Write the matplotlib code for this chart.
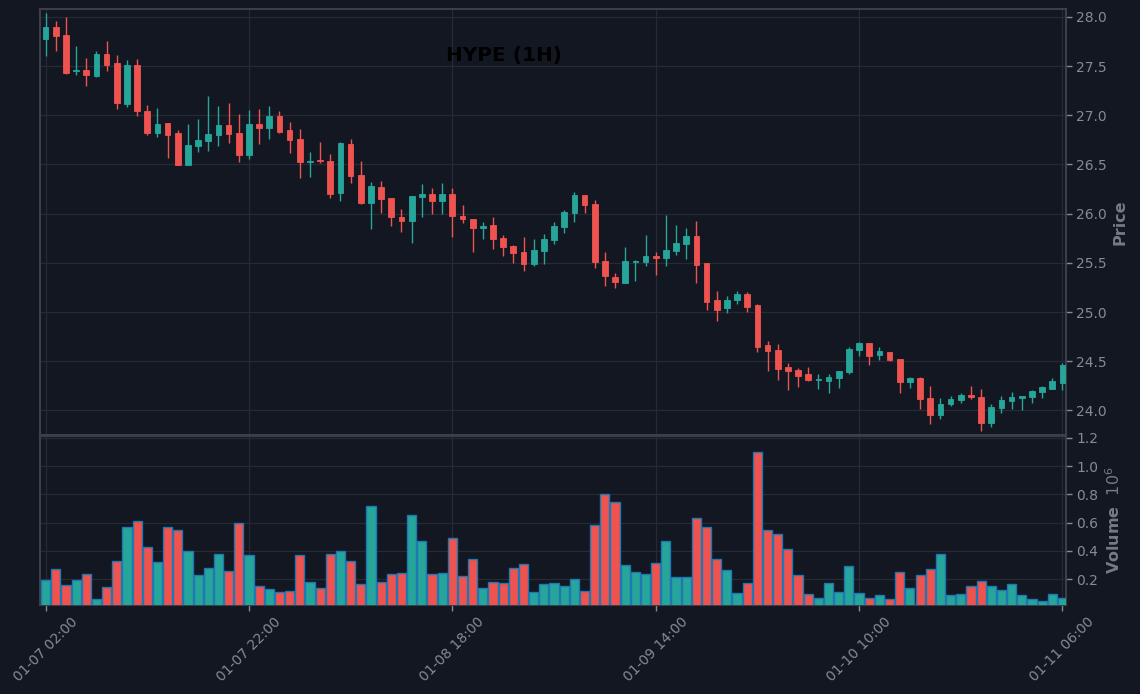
import matplotlib
matplotlib.use("Agg")
import matplotlib.pyplot as plt
import numpy as np
import pandas as pd

start_time = "2025-01-07 02:00"
n_candles = 101

opens = [27.77, 27.90, 27.82, 27.45, 27.46, 27.40, 27.62, 27.53, 27.11, 27.51,
         27.04, 26.82, 26.92, 26.82, 26.49, 26.69, 26.74, 26.80, 26.90, 26.82,
         26.60, 26.91, 26.87, 26.99, 26.85, 26.76, 26.52, 26.55, 26.54, 26.21,
         26.71, 26.39, 26.11, 26.27, 26.16, 25.97, 25.93, 26.17, 26.20, 26.13,
         26.20, 25.98, 25.95, 25.85, 25.88, 25.75, 25.67, 25.61, 25.49, 25.62,
         25.73, 25.866, 26.01, 26.19, 26.10, 25.52, 25.36, 25.30, 25.51, 25.51,
         25.57, 25.55, 25.62, 25.69, 25.77, 25.50, 25.12, 25.04, 25.12, 25.18,
         25.07, 24.66, 24.61, 24.44, 24.41, 24.37, 24.31, 24.30, 24.33, 24.39,
         24.61, 24.68, 24.56, 24.59, 24.52, 24.29, 24.33, 24.13, 23.95, 24.06,
         24.11, 24.16, 24.14, 23.87, 24.02, 24.10, 24.13, 24.14, 24.19, 24.22,
         24.28]
highs = [28.04, 27.96, 28.00, 27.70, 27.58, 27.65, 27.75, 27.61, 27.56, 27.57,
         27.10, 27.07, 26.92, 26.85, 26.91, 26.96, 27.20, 27.09, 27.12, 27.01,
         27.05, 27.06, 27.09, 27.04, 26.93, 26.86, 26.63, 26.73, 26.61, 26.73,
         26.76, 26.53, 26.32, 26.33, 26.16, 26.05, 26.18, 26.30, 26.26, 26.31,
         26.26, 26.09, 25.95, 25.92, 25.97, 25.78, 25.68, 25.76, 25.74, 25.79,
         25.91, 26.04, 26.22, 26.19, 26.14, 25.61, 25.40, 25.66, 25.53, 25.78,
         25.61, 25.99, 25.88, 25.85, 25.93, 25.50, 25.21, 25.16, 25.21, 25.20,
         25.08, 24.71, 24.67, 24.48, 24.43, 24.44, 24.37, 24.37, 24.40, 24.64,
         24.70, 24.68, 24.64, 24.59, 24.52, 24.34, 24.34, 24.25, 24.13, 24.15,
         24.18, 24.25, 24.22, 24.06, 24.15, 24.19, 24.15, 24.21, 24.25, 24.33,
         24.48]
lows = [27.60, 27.65, 27.42, 27.41, 27.30, 27.39, 27.45, 27.06, 27.08, 26.99,
        26.80, 26.78, 26.57, 26.49, 26.49, 26.63, 26.64, 26.69, 26.72, 26.52,
        26.56, 26.71, 26.76, 26.82, 26.62, 26.36, 26.37, 26.51, 26.16, 26.13,
        26.31, 26.10, 25.84, 26.01, 25.87, 25.81, 25.70, 25.97, 26.00, 26.00,
        25.76, 25.90, 25.61, 25.74, 25.64, 25.57, 25.50, 25.42, 25.47, 25.49,
        25.69, 25.80, 25.92, 26.01, 25.45, 25.26, 25.24, 25.30, 25.32, 25.47,
        25.38, 25.47, 25.58, 25.54, 25.30, 25.02, 24.91, 24.99, 25.08, 25.00,
        24.59, 24.40, 24.31, 24.21, 24.24, 24.30, 24.22, 24.18, 24.23, 24.37,
        24.55, 24.46, 24.51, 24.50, 24.18, 24.23, 24.01, 23.86, 23.91, 24.04,
        24.08, 24.12, 23.79, 23.83, 23.97, 24.01, 24.00, 24.08, 24.13, 24.22,
        24.21]
closes = [27.90, 27.81, 27.43, 27.46, 27.41, 27.62, 27.51, 27.12, 27.51, 27.04,
          26.82, 26.91, 26.80, 26.49, 26.70, 26.75, 26.81, 26.90, 26.81, 26.60,
          26.91, 26.87, 26.99, 26.83, 26.75, 26.52, 26.54, 26.54, 26.20, 26.72,
          26.38, 26.11, 26.28, 26.15, 25.97, 25.93, 26.18, 26.20, 26.13, 26.20,
          25.98, 25.95, 25.85, 25.87, 25.74, 25.66, 25.60, 25.49, 25.63, 25.74,
          25.87, 26.015, 26.19, 26.09, 25.51, 25.37, 25.31, 25.52, 25.52, 25.57,
          25.55, 25.63, 25.70, 25.77, 25.48, 25.10, 25.02, 25.12, 25.18, 25.05,
          24.64, 24.60, 24.42, 24.40, 24.35, 24.31, 24.32, 24.34, 24.40, 24.62,
          24.68, 24.55, 24.60, 24.51, 24.29, 24.33, 24.12, 23.95, 24.06, 24.12,
          24.16, 24.14, 23.87, 24.03, 24.11, 24.14, 24.15, 24.20, 24.24, 24.30,
          24.46]
volumes_m = [0.193, 0.271, 0.158, 0.193, 0.236, 0.058, 0.144, 0.328, 0.569, 0.611,
             0.426, 0.320, 0.569, 0.547, 0.398, 0.229, 0.278, 0.377, 0.257, 0.597,
             0.370, 0.151, 0.130, 0.109, 0.116, 0.370, 0.179, 0.137, 0.377, 0.398,
             0.328, 0.165, 0.717, 0.179, 0.236, 0.243, 0.653, 0.470, 0.236, 0.243,
             0.491, 0.222, 0.342, 0.137, 0.179, 0.172, 0.278, 0.306, 0.109, 0.165,
             0.172, 0.151, 0.200, 0.116, 0.583, 0.802, 0.745, 0.299, 0.250, 0.236,
             0.313, 0.470, 0.215, 0.215, 0.632, 0.569, 0.342, 0.264, 0.102, 0.172,
             1.103, 0.547, 0.519, 0.412, 0.229, 0.094, 0.066, 0.172, 0.109, 0.292,
             0.102, 0.066, 0.087, 0.058, 0.250, 0.137, 0.229, 0.271, 0.377, 0.087,
             0.094, 0.151, 0.186, 0.151, 0.123, 0.165, 0.087, 0.058, 0.045, 0.094,
             0.066]
title = "HYPE (1H)"
tick_step = 20

BG = "#131722"
UP = "#26a69a"
DOWN = "#ef5350"
GRID = "#262a35"
SPINE = "#3b3f4a"
TICKC = "#868a94"
LABELC = "#767a85"

dates = pd.date_range(start_time, periods=n_candles, freq="h")
o = np.array(opens); h = np.array(highs); l = np.array(lows); c = np.array(closes)
v = np.array(volumes_m)
x = np.arange(len(o))
up = c >= o
cols = np.where(up, UP, DOWN)

fig = plt.figure(figsize=(11.4, 6.94), dpi=100, facecolor=BG)
W, H = 1140, 694
def rect(l_, t_, r_, b_):
    return [l_ / W, 1 - b_ / H, (r_ - l_) / W, (b_ - t_) / H]
ax = fig.add_axes(rect(40, 9, 1066, 434.5))
axv = fig.add_axes(rect(40, 436, 1066, 604.5), sharex=ax)

for a in (ax, axv):
    a.set_facecolor(BG)
    for s in a.spines.values():
        s.set_color(SPINE)
        s.set_linewidth(1.5)
    a.yaxis.tick_right()
    a.yaxis.set_label_position("right")
    a.tick_params(colors=TICKC, labelsize=10, length=4, width=1)
    a.grid(True, color=GRID, linewidth=0.9)
    a.set_axisbelow(True)

# candles
ax.vlines(x, l, h, colors=cols, linewidth=1.0, zorder=2)
body = np.where(np.abs(c - o) < 0.004, 0.004, c - o)
ax.bar(x, body, bottom=o, width=0.56, color=cols, edgecolor=cols, linewidth=0.6, zorder=3)
ax.set_xlim(-0.55, 100.35)
ax.set_ylim(23.755, 28.08)
ax.set_yticks(np.arange(24.0, 28.01, 0.5))
ax.yaxis.set_major_formatter(matplotlib.ticker.FormatStrFormatter("%.1f"))
ax.set_ylabel("Price", color=LABELC, fontsize=11.5, fontweight="bold")
plt.setp(ax.get_xticklabels(), visible=False)
ax.tick_params(axis="x", length=0)

# volume
axv.bar(x, v, width=0.9, color=cols, edgecolor="#1f77b4", linewidth=1.0, zorder=3)
axv.set_ylim(0.02, 1.213)
axv.set_yticks(np.arange(0.2, 1.21, 0.2))
axv.yaxis.set_major_formatter(matplotlib.ticker.FormatStrFormatter("%.1f"))
axv.set_ylabel("Volume  $10^{6}$", color=LABELC, fontsize=11.5, fontweight="bold")

ticks = list(range(0, n_candles, tick_step))
axv.set_xticks(ticks)
axv.set_xticklabels([dates[i].strftime("%m-%d %H:%M") for i in ticks], rotation=45)

fig.text(504 / W, 1 - 56 / H, title, ha="center", va="center",
         fontsize=14.4, fontweight="bold", color="black")

fig.savefig("out.png", dpi=100, facecolor=BG)
